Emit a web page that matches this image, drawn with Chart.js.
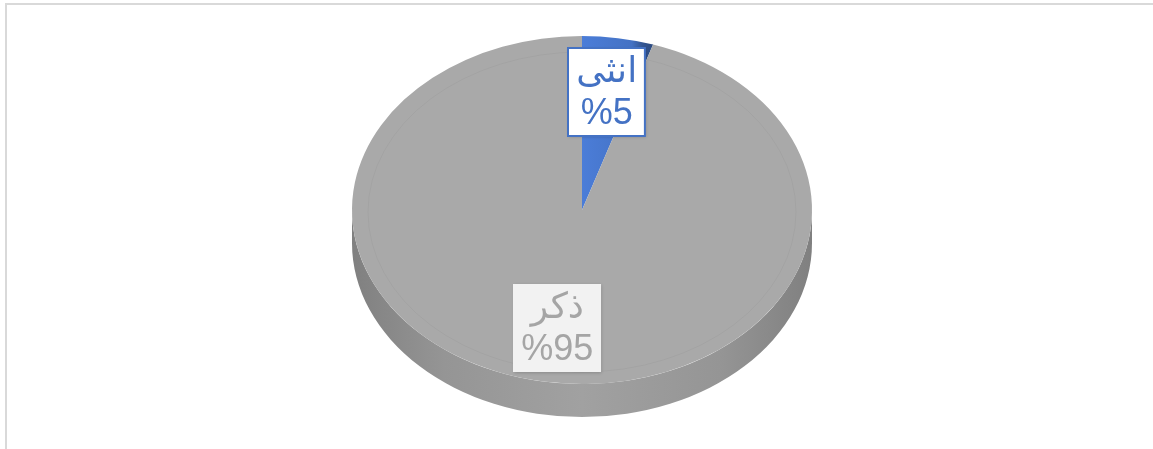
<!DOCTYPE html>
<html lang="ar">
<head>
<meta charset="utf-8">
<title>ذكر / انثى</title>
<script src="https://cdn.jsdelivr.net/npm/chart.js@4.4.1/dist/chart.umd.min.js"></script>
<style>
  html, body { margin: 0; padding: 0; background: #fff; overflow: hidden; }
  #wrap { position: relative; width: 1153px; height: 449px; }
  #frame { position: absolute; left: 5px; top: 3px; width: 1400px; height: 700px;
           border-left: 2px solid #d9d9d9; border-top: 2px solid #d9d9d9; }
  #genderChart { position: absolute; left: 0; top: 0; }
</style>
</head>
<body>
<div id="wrap">
  <div id="frame"></div>
  <canvas id="genderChart" width="1153" height="449"></canvas>
</div>
<script>
  // data
  const categories = ['انثى', 'ذكر'];
  const percentValues = [5, 95];

  // styles
  const sliceColors = ['#4472c4', '#a9a9a9'];
  const labelFill = ['#ffffff', '#f2f2f2'];
  const labelBorder = ['#4472c4', null];
  const labelText = ['#4472c4', '#a5a5a5'];

  // where the tilted pie sits on the page
  const PIE = { cx: 582, cy: 210, rx: 230, ry: 174, depth: 33 };

  function shade(hex, f) {
    const n = parseInt(hex.slice(1), 16);
    const ch = [(n >> 16) & 255, (n >> 8) & 255, n & 255]
      .map(v => Math.max(0, Math.min(255, Math.round(v * f))));
    return 'rgb(' + ch.join(',') + ')';
  }

  // small slices get a bit of lighting across them, big ones stay flat
  function sliceFill(c) {
    const base = sliceColors[c.dataIndex];
    const area = c.chart.chartArea;
    if (!area) return base;
    const total = percentValues.reduce((a, b) => a + b, 0);
    const before = percentValues.slice(0, c.dataIndex).reduce((a, b) => a + b, 0);
    const share = percentValues[c.dataIndex] / total;
    if (share > 0.25) return base;
    const s = -Math.PI / 2 + 2 * Math.PI * before / total;
    const e = s + 2 * Math.PI * share;
    const cx = (area.left + area.right) / 2;
    const r = Math.min(area.width, area.height) / 2;
    const xs = [cx, cx + r * Math.cos(s), cx + r * Math.cos(e)];
    const g = c.chart.ctx.createLinearGradient(Math.min(...xs), 0, Math.max(...xs), 0);
    g.addColorStop(0, shade(base, 1.1));
    g.addColorStop(0.7, base);
    g.addColorStop(0.85, shade(base, 0.75));
    g.addColorStop(1, shade(base, 0.65));
    return g;
  }

  const tiltPlugin = {
    id: 'tilt',
    beforeDatasetsDraw(chart) {
      const meta = chart.getDatasetMeta(0);
      const first = meta.data[0];
      if (!first) return;
      const ctx = chart.ctx;

      // front wall, only the part between 0 and PI faces us
      meta.data.forEach((arc, i) => {
        const a = Math.max(arc.startAngle, 0);
        const b = Math.min(arc.endAngle, Math.PI);
        if (a >= b) return;
        const base = sliceColors[i];
        const g = ctx.createLinearGradient(PIE.cx - PIE.rx, 0, PIE.cx + PIE.rx, 0);
        g.addColorStop(0, shade(base, 0.76));
        g.addColorStop(0.2, shade(base, 0.88));
        g.addColorStop(0.5, shade(base, 0.95));
        g.addColorStop(0.8, shade(base, 0.88));
        g.addColorStop(1, shade(base, 0.76));
        ctx.save();
        ctx.beginPath();
        ctx.ellipse(PIE.cx, PIE.cy, PIE.rx, PIE.ry, 0, a, b);
        ctx.ellipse(PIE.cx, PIE.cy + PIE.depth, PIE.rx, PIE.ry, 0, b, a, true);
        ctx.closePath();
        ctx.fillStyle = g;
        ctx.fill();
        ctx.restore();
      });

      ctx.save();
      ctx.translate(PIE.cx, PIE.cy);
      ctx.scale(PIE.rx / first.outerRadius, PIE.ry / first.outerRadius);
      ctx.translate(-first.x, -first.y);
    },
    afterDatasetsDraw(chart) {
      if (!chart.getDatasetMeta(0).data[0]) return;
      const ctx = chart.ctx;
      ctx.restore();
      // faint bevel line on the top face
      ctx.save();
      ctx.beginPath();
      ctx.ellipse(PIE.cx, PIE.cy + 2, PIE.rx - 16, PIE.ry - 14, 0, 0, Math.PI * 2);
      ctx.strokeStyle = 'rgba(0,0,0,0.035)';
      ctx.lineWidth = 1;
      ctx.stroke();
      ctx.restore();
    }
  };

  const labelPlugin = {
    id: 'boxLabels',
    afterDraw(chart) {
      const ctx = chart.ctx;
      const meta = chart.getDatasetMeta(0);
      const font = '36px "Liberation Sans", "DejaVu Sans", Arial, sans-serif';
      meta.data.forEach((arc, i) => {
        const mid = (arc.startAngle + arc.endAngle) / 2;
        const px = PIE.cx + Math.cos(mid) * PIE.rx * 0.686;
        const py = PIE.cy + Math.sin(mid) * PIE.ry * 0.686;
        const line1 = categories[i];
        const line2 = '%' + percentValues[i];

        ctx.save();
        ctx.font = font;
        const w = Math.max(ctx.measureText(line1).width, ctx.measureText(line2).width) + 16;
        const h = 88;
        const x = Math.round(px - w / 2);
        const y = Math.round(py - h / 2);

        ctx.shadowColor = 'rgba(0,0,0,0.18)';
        ctx.shadowBlur = 3;
        ctx.shadowOffsetX = 1;
        ctx.shadowOffsetY = 1;
        ctx.fillStyle = labelFill[i];
        ctx.fillRect(x, y, w, h);
        ctx.shadowColor = 'transparent';
        if (labelBorder[i]) {
          ctx.strokeStyle = labelBorder[i];
          ctx.lineWidth = 2;
          ctx.strokeRect(x, y, w, h);
        }

        ctx.fillStyle = labelText[i];
        ctx.textAlign = 'center';
        ctx.textBaseline = 'middle';
        ctx.direction = 'rtl';
        ctx.fillText(line1, px, py - 20);
        ctx.direction = 'ltr';
        ctx.fillText(line2, px, py + 22);
        ctx.restore();
      });
    }
  };

  new Chart(document.getElementById('genderChart'), {
    type: 'pie',
    data: {
      labels: categories,
      datasets: [{
        data: percentValues,
        backgroundColor: sliceFill,
        borderWidth: 0
      }]
    },
    options: {
      responsive: false,
      animation: false,
      events: [],
      plugins: {
        legend: { display: false },
        tooltip: { enabled: false }
      }
    },
    plugins: [tiltPlugin, labelPlugin]
  });
</script>
</body>
</html>
